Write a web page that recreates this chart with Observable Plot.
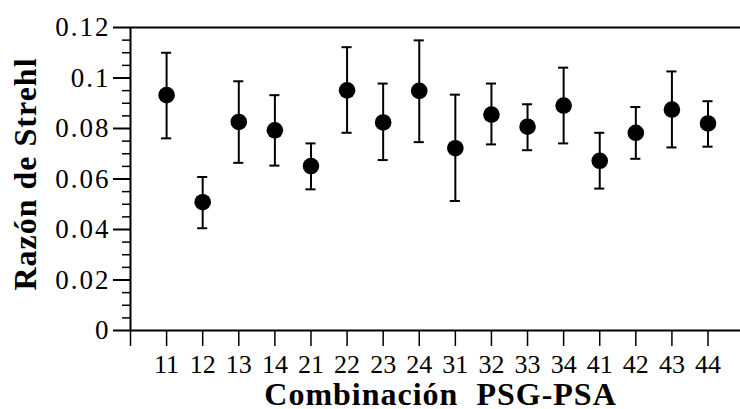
<!DOCTYPE html>
<html>
<head>
<meta charset="utf-8">
<script src="https://cdn.jsdelivr.net/npm/d3@7"></script>
<script src="https://cdn.jsdelivr.net/npm/@observablehq/plot@0.6"></script>
<style>
  html, body { margin: 0; padding: 0; background: #fff; }
  .ytk text { letter-spacing: 2px; }
  .ttl text { letter-spacing: 1px; }
</style>
</head>
<body>
<div id="chart"></div>
<script>
const categories = ["11","12","13","14","21","22","23","24","31","32","33","34","41","42","43","44"];
const strehl = [0.0932, 0.0508, 0.0826, 0.0793, 0.0651, 0.0951, 0.0824, 0.0949, 0.0722, 0.0855, 0.0807, 0.0891, 0.0672, 0.0783, 0.0875, 0.0820];
const upper  = [0.1100, 0.0608, 0.0987, 0.0932, 0.0741, 0.1122, 0.0978, 0.1149, 0.0934, 0.0978, 0.0896, 0.1041, 0.0783, 0.0885, 0.1026, 0.0908];
const lower  = [0.0761, 0.0405, 0.0664, 0.0653, 0.0559, 0.0783, 0.0675, 0.0746, 0.0513, 0.0737, 0.0714, 0.0741, 0.0562, 0.0680, 0.0725, 0.0728];
const yTicks = [0, 0.02, 0.04, 0.06, 0.08, 0.1, 0.12];
const yTickLabels = ["0", "0.02", "0.04", "0.06", "0.08", "0.1", "0.12"];
const yMinorTicks = [0.005, 0.01, 0.015, 0.025, 0.03, 0.035, 0.045, 0.05, 0.055, 0.065, 0.07, 0.075, 0.085, 0.09, 0.095, 0.105, 0.11, 0.115];
const xTickPositions = [0, 1, 2, 3, 4, 5, 6, 7, 8, 9, 10, 11, 12, 13, 14, 15, 16];
const xTickLabels = ["", ...categories];
const yTitle = "Razón de Strehl";
const xTitle = "Combinación\u00a0\u00a0PSG-PSA";

const data = categories.map((c, i) => ({pos: i + 1, label: c, value: strehl[i], lo: lower[i], hi: upper[i]}));
const capHalf = 0.14;

const chart = Plot.plot({
  width: 740,
  height: 409,
  marginLeft: 130,
  marginRight: 0,
  marginTop: 27,
  marginBottom: 79,
  x: {domain: [0, 16.9], axis: null, label: null},
  y: {domain: [0, 0.12], axis: null, label: null},
  style: {fontFamily: "'Liberation Serif', 'Times New Roman', serif", color: "black", background: "white"},
  marks: [
    Plot.axisY(yMinorTicks, {tickSize: 8, tickFormat: () => "", strokeWidth: 1.5, label: null}),
    Plot.axisY(yTicks, {tickSize: 17, tickPadding: 3, tickFormat: d => yTickLabels[yTicks.indexOf(d)], fontSize: 27, strokeWidth: 2, label: null, className: "ytk"}),
    Plot.axisX(xTickPositions, {tickSize: 16, tickPadding: 8, tickFormat: d => xTickLabels[xTickPositions.indexOf(d)], fontSize: 26, strokeWidth: 1.5, label: null}),
    Plot.ruleX([0], {strokeWidth: 2}),
    Plot.ruleY([0, 0.12], {strokeWidth: 2}),
    Plot.ruleX(data, {x: "pos", y1: "lo", y2: "hi", strokeWidth: 2}),
    Plot.ruleY(data, {y: "hi", x1: d => d.pos - capHalf, x2: d => d.pos + capHalf, strokeWidth: 2}),
    Plot.ruleY(data, {y: "lo", x1: d => d.pos - capHalf, x2: d => d.pos + capHalf, strokeWidth: 2}),
    Plot.dot(data, {x: "pos", y: "value", r: 8.3, fill: "black", stroke: "none"}),
    Plot.text([yTitle], {frameAnchor: "left", textAnchor: "middle", lineAnchor: "middle", rotate: -90, dx: -105, dy: -5, fontSize: 32, fontWeight: "bold", fill: "black", className: "ttl"}),
    Plot.text([xTitle], {frameAnchor: "bottom", textAnchor: "middle", lineAnchor: "middle", dx: 5, dy: 64, fontSize: 32, fontWeight: "bold", fill: "black", className: "ttl"})
  ]
});
document.getElementById("chart").appendChild(chart);
</script>
</body>
</html>
